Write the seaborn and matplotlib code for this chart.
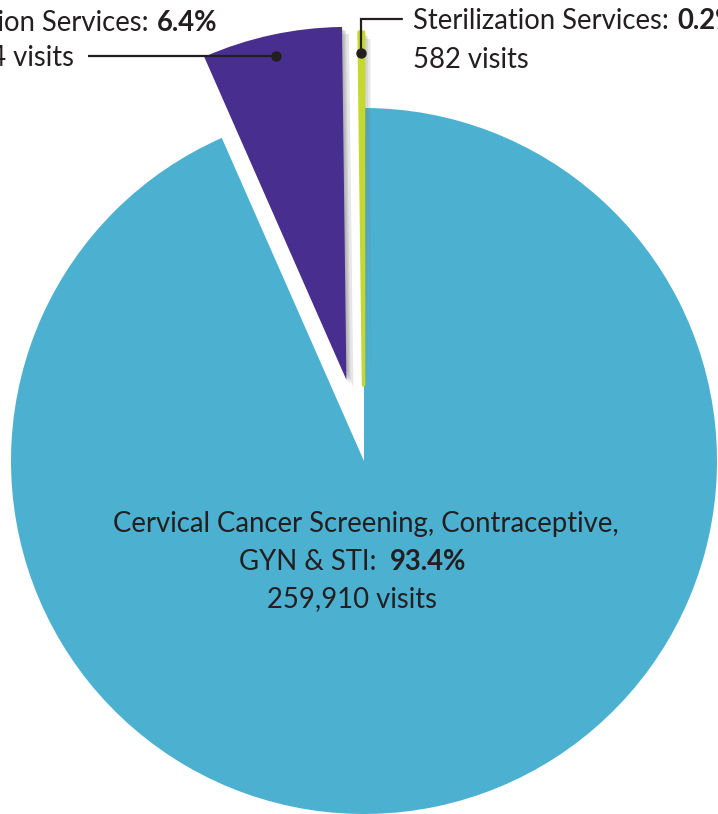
import matplotlib
matplotlib.use("Agg")
import matplotlib.pyplot as plt
import matplotlib.patheffects as pe
import numpy as np
import seaborn as sns

# Data
services = ["Cervical Cancer Screening, Contraceptive, GYN & STI",
            "Abortion Services", "Sterilization Services"]
shares = [93.4, 6.4, 0.2]
visits = [259910, 17784, 582]
colors = ["#4cb1d0", "#482f8f", "#c4d92c"]
explode = [0, 0.235, 0.215]

sns.set_theme(style="white")
plt.rcParams["font.family"] = ["Lato", "DejaVu Sans"]

W, H = 718, 814
R_PX = 353          # pie radius in pixels
CX, CY = 364, 461   # pie centre in pixels (from top-left)
FS = 19.8
INK = "#231f20"


def px(x, y):
    """Pixel position -> data coords (pie radius = 1)."""
    return (x - CX) / R_PX, (CY - y) / R_PX


fig = plt.figure(figsize=(W / 100, H / 100), dpi=100)
ax = fig.add_axes([0, 0, 1, 1])

wedges, _ = ax.pie(shares, colors=colors, startangle=90, counterclock=False,
                   explode=explode, radius=1, wedgeprops=dict(linewidth=0))

shadow = [pe.SimplePatchShadow(offset=(o, -o), shadow_rgbFace="#777777", alpha=0.18)
          for o in (1, 2, 3, 5)] + [pe.Normal()]
for w in wedges[1:]:
    w.set_path_effects(shadow)
# the thin sliver is drawn a bit wider so it stays visible
wedges[2].set_edgecolor(colors[2])
wedges[2].set_linewidth(2.5)
wedges[2].set_joinstyle("round")

ax.set_xlim(-CX / R_PX, (W - CX) / R_PX)
ax.set_ylim(-(H - CY) / R_PX, CY / R_PX)
ax.set_aspect("equal")
ax.axis("off")


def anchor(w, frac=0.94):
    t = np.deg2rad((w.theta1 + w.theta2) / 2)
    return w.center[0] + frac * w.r * np.cos(t), w.center[1] + frac * w.r * np.sin(t)


# Abortion services label (left, cut by the frame as in the source)
ax_, ay_ = anchor(wedges[1])
ax.plot([px(88, 0)[0], ax_], [ay_, ay_], color=INK, lw=1.6, solid_capstyle="butt")
ax.plot(ax_, ay_, "o", color=INK, ms=6.5)
t = ax.text(*px(217, 31), f"{shares[1]}%", ha="right", va="baseline",
            fontsize=FS, fontweight="bold", color=INK)
ax.annotate(f"{services[1]}:", xy=(0, 0), xycoords=t, xytext=(-6, 0),
            textcoords="offset points", ha="right", va="bottom", fontsize=FS, color=INK)
ax.text(*px(74, 65), f"{visits[1]:,} visits", ha="right", va="baseline",
        fontsize=FS, color=INK)

# Sterilization label (right, cut by the frame as in the source)
gx, gy = anchor(wedges[2])
ytop = px(0, 19)[1]
ax.plot([gx, gx, px(402, 0)[0]], [gy, ytop, ytop], color=INK, lw=1.6,
        solid_joinstyle="miter")
ax.plot(gx, gy, "o", color=INK, ms=6.5)
t = ax.text(*px(413, 29), f"{services[2]}:", ha="left", va="baseline",
            fontsize=FS, color=INK)
ax.annotate(f"{shares[2]}%", xy=(1, 0), xycoords=t, xytext=(6, 0),
            textcoords="offset points", ha="left", va="bottom",
            fontsize=FS, fontweight="bold", color=INK)
ax.text(*px(413, 68), f"{visits[2]:,} visits", ha="left", va="baseline",
        fontsize=FS, color=INK)

# Main slice label
ax.text(*px(366, 532), "Cervical Cancer Screening, Contraceptive,",
        ha="center", va="baseline", fontsize=FS, color=INK)
t = ax.text(*px(390, 570), f"{shares[0]}%", ha="left", va="baseline",
            fontsize=FS, fontweight="bold", color=INK)
ax.annotate("GYN & STI:", xy=(0, 0), xycoords=t, xytext=(-10, 0),
            textcoords="offset points", ha="right", va="bottom", fontsize=FS, color=INK)
ax.text(*px(352, 607), f"{visits[0]:,} visits", ha="center", va="baseline",
        fontsize=FS, color=INK)

fig.savefig("out.png", dpi=100)
plt.close(fig)
